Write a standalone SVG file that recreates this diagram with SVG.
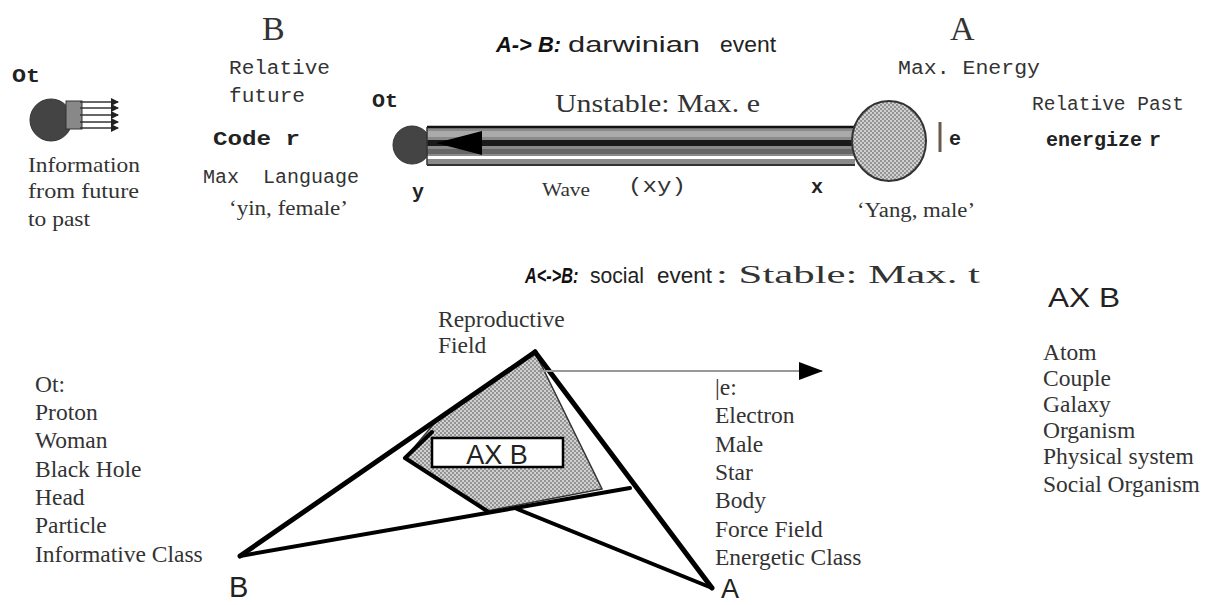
<svg xmlns="http://www.w3.org/2000/svg" width="1212" height="605" viewBox="0 0 1212 605">
<defs>
<pattern id="dots" width="4" height="4" patternUnits="userSpaceOnUse">
<rect width="4" height="4" fill="#d0d0d0"/>
<circle cx="1" cy="1" r="0.9" fill="#777"/>
<circle cx="3" cy="3" r="0.9" fill="#777"/>
</pattern>
<marker id="sh" markerWidth="8" markerHeight="8" refX="7" refY="4" orient="auto" markerUnits="userSpaceOnUse">
<path d="M0,0 L8,4 L0,8 Z" fill="#222"/>
</marker>
<marker id="big" markerWidth="24" markerHeight="18" refX="23" refY="9" orient="auto" markerUnits="userSpaceOnUse">
<path d="M0,0 L24,9 L0,18 Z" fill="#000"/>
</marker>
</defs>
<style>
.mono{font-family:"Liberation Mono","DejaVu Sans Mono",monospace;font-size:20px;fill:#333}
.monob{font-family:"Liberation Mono","DejaVu Sans Mono",monospace;font-weight:bold;font-size:20px;fill:#222}
.serif{font-family:"Liberation Serif","DejaVu Serif",serif;fill:#333}
.sans{font-family:"Liberation Sans","DejaVu Sans",sans-serif;fill:#222}
.bi{font-family:"Liberation Sans","DejaVu Sans",sans-serif;font-weight:bold;font-style:italic;fill:#111}
.list{font-family:"Liberation Serif","DejaVu Serif",serif;font-size:23.5px;fill:#333}
.thick{stroke:#000;stroke-width:5;stroke-linecap:round;fill:none}
</style>
<rect width="1212" height="605" fill="#fff"/>

<g id="info-icon">
<text class="monob" x="12" y="82" font-size="18" textLength="28" lengthAdjust="spacingAndGlyphs">Ot</text>
<circle cx="51" cy="120" r="21" fill="#444" stroke="#333"/>
<rect x="66" y="101" width="16" height="28" fill="#888" stroke="#333"/>
<g stroke="#333" stroke-width="1.5" marker-end="url(#sh)">
<line x1="80" y1="102" x2="118" y2="102"/>
<line x1="80" y1="108" x2="118" y2="108"/>
<line x1="80" y1="115" x2="118" y2="115"/>
<line x1="80" y1="122" x2="118" y2="122"/>
<line x1="80" y1="128" x2="118" y2="128"/>
</g>
<text class="serif" font-size="21" x="28" y="172" textLength="112" lengthAdjust="spacingAndGlyphs">Information</text>
<text class="serif" font-size="21" x="28" y="198" textLength="111" lengthAdjust="spacingAndGlyphs">from future</text>
<text class="serif" font-size="21" x="28" y="226" textLength="62" lengthAdjust="spacingAndGlyphs">to past</text>
</g>

<g id="B-top">
<text class="serif" x="262" y="40" font-size="34">B</text>
<text class="mono" x="229" y="74" textLength="101" lengthAdjust="spacingAndGlyphs">Relative</text>
<text class="mono" x="229" y="102" textLength="76" lengthAdjust="spacingAndGlyphs">future</text>
<text class="monob" x="213" y="145" textLength="87" lengthAdjust="spacingAndGlyphs">Code r</text>
<text class="mono" x="203" y="183">Max<tspan x="263">Language</tspan></text>
<text class="serif" x="229" y="215" font-size="20" textLength="119" lengthAdjust="spacingAndGlyphs">‘yin, female’</text>
</g>

<g id="title-top">
<text class="bi" x="496" y="52" font-size="22" textLength="65" lengthAdjust="spacingAndGlyphs">A-&gt; B:</text>
<text class="sans" x="568" y="52" font-size="22" textLength="132" lengthAdjust="spacingAndGlyphs">darwinian</text>
<text class="sans" x="720" y="52" font-size="22" textLength="56" lengthAdjust="spacingAndGlyphs">event</text>
</g>

<g id="A-top">
<text class="serif" x="950" y="40" font-size="34">A</text>
<text class="mono" x="898" y="74" textLength="142" lengthAdjust="spacingAndGlyphs">Max. Energy</text>
<text class="mono" x="1032" y="110" textLength="152" lengthAdjust="spacingAndGlyphs">Relative Past</text>
<text class="monob" x="1046" y="146">energize<tspan dx="7">r</tspan></text>
</g>

<g id="wave">
<text class="monob" x="372" y="107" font-size="15" textLength="26" lengthAdjust="spacingAndGlyphs">Ot</text>
<text class="serif" x="555" y="112" font-size="26" textLength="205" lengthAdjust="spacingAndGlyphs">Unstable: Max. e</text>
<circle cx="412" cy="145" r="19" fill="#444" stroke="#333"/>
<rect x="427" y="127" width="428" height="38" fill="#8a8a8a"/>
<rect x="427" y="131" width="428" height="6" fill="#aaa"/>
<rect x="427" y="140" width="428" height="6" fill="#1a1a1a"/>
<rect x="427" y="149" width="428" height="5" fill="#666"/>
<rect x="427" y="156" width="428" height="3" fill="#fff"/>
<line x1="427" y1="127" x2="855" y2="127" stroke="#111" stroke-width="2.5"/>
<line x1="427" y1="165" x2="855" y2="165" stroke="#333" stroke-width="2"/>
<line x1="427" y1="127" x2="427" y2="165" stroke="#333" stroke-width="1.5"/>
<path d="M436,143 L482,131 L482,155 Z" fill="#000"/>
<ellipse cx="889" cy="141" rx="37" ry="40" fill="url(#dots)" stroke="#333" stroke-width="2"/>
<line x1="940" y1="122" x2="940" y2="152" stroke="#6b5a4a" stroke-width="3"/>
<text class="monob" x="949" y="145" font-size="22">e</text>
<text class="monob" x="412" y="198">y</text>
<text class="serif" x="542" y="196" font-size="18" textLength="48" lengthAdjust="spacingAndGlyphs">Wave</text>
<text class="mono" x="628" y="192" textLength="58" lengthAdjust="spacingAndGlyphs">(xy)</text>
<text class="monob" x="811" y="193">x</text>
<text class="serif" x="857" y="217" font-size="20" textLength="118" lengthAdjust="spacingAndGlyphs">‘Yang, male’</text>
</g>

<g id="title-mid">
<text class="bi" transform="translate(525,283) scale(0.74,1)" x="0" y="0" font-size="22">A&lt;-&gt;B:</text>
<text class="sans" x="590" y="283" font-size="22" textLength="54" lengthAdjust="spacingAndGlyphs">social</text>
<text class="sans" x="657" y="283" font-size="22" textLength="55" lengthAdjust="spacingAndGlyphs">event</text>
<text class="serif" x="716" y="283" font-size="25" textLength="264" lengthAdjust="spacingAndGlyphs">: Stable: Max. t</text>
</g>

<g id="axb-list">
<text class="sans" x="1048" y="307" font-size="27" textLength="72" lengthAdjust="spacingAndGlyphs">AX B</text>
<text class="list"><tspan x="1043" y="360">Atom</tspan><tspan x="1043" y="386">Couple</tspan><tspan x="1043" y="412">Galaxy</tspan><tspan x="1043" y="438">Organism</tspan><tspan x="1043" y="464">Physical system</tspan><tspan x="1043" y="492">Social Organism</tspan></text>
</g>

<g id="ot-list">
<text class="list"><tspan x="35" y="392">Ot:</tspan><tspan x="35" y="420">Proton</tspan><tspan x="35" y="448">Woman</tspan><tspan x="35" y="477">Black Hole</tspan><tspan x="35" y="505">Head</tspan><tspan x="35" y="533">Particle</tspan><tspan x="35" y="562">Informative Class</tspan></text>
</g>

<g id="e-list">
<text class="list"><tspan x="715" y="395">|e:</tspan><tspan x="715" y="423">Electron</tspan><tspan x="715" y="452">Male</tspan><tspan x="715" y="480">Star</tspan><tspan x="715" y="508">Body</tspan><tspan x="715" y="537">Force Field</tspan><tspan x="715" y="565">Energetic Class</tspan></text>
</g>

<g id="reproductive-label">
<text class="list"><tspan x="438" y="327">Reproductive</tspan><tspan x="438" y="353">Field</tspan></text>
</g>

<g id="triangle">
<path d="M535,352 L438,419 L405,458 L487,511 L602,489 Z" fill="url(#dots)" stroke="#333" stroke-width="1.5"/>
<polyline points="432,432 405,458 487,511" fill="none" stroke="#000" stroke-width="4" stroke-linejoin="round" stroke-linecap="round"/>
<rect x="432" y="438" width="131" height="29" fill="#fff" stroke="#000" stroke-width="2.5"/>
<text class="sans" x="497" y="464" font-size="27" text-anchor="middle">AX B</text>
<line x1="240" y1="556" x2="535" y2="352" class="thick"/>
<line x1="535" y1="352" x2="712" y2="588" class="thick"/>
<line x1="240" y1="556" x2="630" y2="488" stroke="#000" stroke-width="4" stroke-linecap="round"/>
<line x1="517" y1="509" x2="712" y2="588" stroke="#000" stroke-width="4" stroke-linecap="round"/>
<text class="sans" x="229" y="597" font-size="29">B</text>
<text class="sans" x="721" y="598" font-size="27">A</text>
</g>

<g id="connectors">
<line x1="540" y1="371" x2="822" y2="371" stroke="#999" stroke-width="2" marker-end="url(#big)"/>
</g>
</svg>
